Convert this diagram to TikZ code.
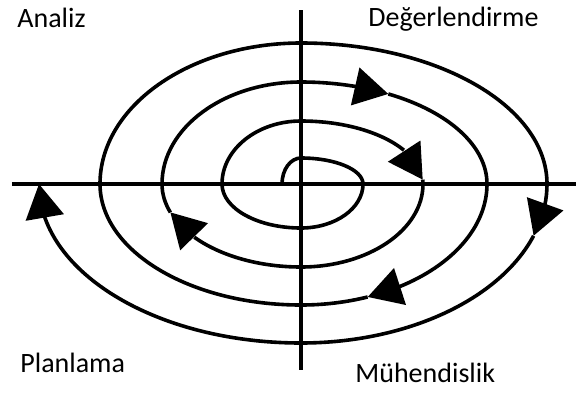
\documentclass[tikz,border=0pt]{standalone}
\usepackage{fontspec}
\setmainfont{Carlito}
\usetikzlibrary{arrows.meta,bending}

\begin{document}
\begin{tikzpicture}[x=0.5pt,y=0.5pt,
  font=\fontsize{14}{17}\selectfont,
  axis/.style={line width=2.1pt},
  spiral/.style={line width=1.8pt},
  tip/.style={spiral,-{Triangle[length=17pt,width=19pt,flex]}},
  lbl/.style={anchor=base west,inner sep=0pt}]
\useasboundingbox (-301,-208) rectangle (275,184);
% axes
\draw[axis] (-289,0) -- (275,0);
\draw[axis] (0,174) -- (0,-186);
% spiral, cut where the arrows sit
\draw[tip] (-19,0) arc[start angle=180,end angle=90,x radius=19,y radius=26]
  arc[start angle=90,end angle=0,x radius=62,y radius=26]
  arc[start angle=0,end angle=-90,x radius=62,y radius=44]
  arc[start angle=-90,end angle=-180,x radius=79,y radius=44]
  arc[start angle=180,end angle=90,x radius=79,y radius=63]
  arc[start angle=90,end angle=4,x radius=122,y radius=63] coordinate (t1);
\draw[tip] (t1) arc[start angle=4,end angle=0,x radius=122,y radius=63]
  arc[start angle=0,end angle=-90,x radius=122,y radius=83]
  arc[start angle=-90,end angle=-160,x radius=139,y radius=83] coordinate (t2);
\draw[tip] (t2) arc[start angle=-160,end angle=-180,x radius=139,y radius=83]
  arc[start angle=180,end angle=90,x radius=139,y radius=102]
  arc[start angle=90,end angle=62,x radius=186,y radius=102] coordinate (t3);
\draw[tip] (t3) arc[start angle=62,end angle=0,x radius=186,y radius=102]
  arc[start angle=0,end angle=-69,x radius=186,y radius=121] coordinate (t4);
\draw[tip] (t4) arc[start angle=-69,end angle=-90,x radius=186,y radius=121]
  arc[start angle=-90,end angle=-180,x radius=201,y radius=121]
  arc[start angle=180,end angle=90,x radius=201,y radius=141]
  arc[start angle=90,end angle=0,x radius=246,y radius=141]
  arc[start angle=0,end angle=-19,x radius=246,y radius=159] coordinate (t5);
\draw[tip] (t5) arc[start angle=-19,end angle=-90,x radius=246,y radius=159]
  arc[start angle=-90,end angle=-180,x radius=262,y radius=159];
% phases
\node[lbl] (analiz) at (-284,157) {Analiz};
\node[lbl] (deger) at (67,158) {Değerlendirme};
\node[lbl] (plan) at (-281,-188) {Planlama};
\node[lbl] (muh) at (54,-198) {Mühendislik};
\end{tikzpicture}
\end{document}
